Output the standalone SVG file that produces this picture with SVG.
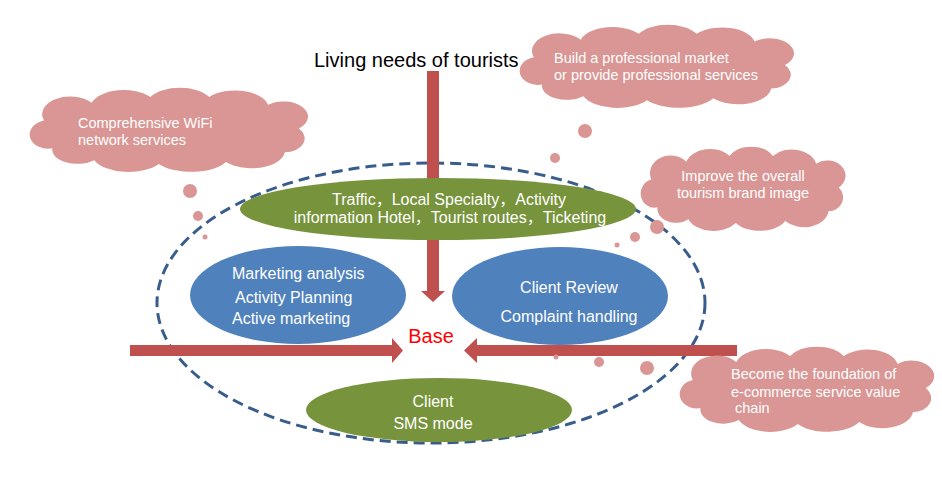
<svg xmlns="http://www.w3.org/2000/svg" width="942" height="485" viewBox="0 0 942 485">
<style>
  .t { font-family: "Liberation Sans", Arial, "Noto Sans CJK SC", sans-serif; }
  .wt { fill: #ffffff; font-size: 16px; }
  .ct { fill: #ffffff; font-size: 14.5px; }
  .cloud { fill: #D99694; }
  .green { fill: #77933C; }
  .blue { fill: #4F81BD; }
  .arrow { fill: #C0504D; }
  .dash { fill: none; stroke: #385D8A; stroke-width: 3; stroke-dasharray: 11 6; }
</style>
<defs>
  <path id="cloudShape" d="M 16 60 A 12 13 0 0 1 10 32 A 20 18 0 0 1 44 14 A 24 18 0 0 1 86 8 A 24 18 0 0 1 128 8 A 24 18 0 0 1 170 16 A 16 14 0 0 1 192 40 A 14 14 0 0 1 182 64 A 24 18 0 0 1 140 74 A 28 18 0 0 1 92 76 A 26 18 0 0 1 46 72 A 18 14 0 0 1 16 60 Z"/>
</defs>
<rect width="942" height="485" fill="#ffffff"/>

<g id="boundary">
  <ellipse class="dash" cx="431" cy="303" rx="274" ry="140"/>
</g>

<g id="connectors">
  <polygon class="arrow" points="427,71 439,71 439,291 445,291 433,302 421,291 427,291"/>
  <polygon class="arrow" points="130,345 392,345 392,338 403,350.5 392,363 392,356 130,356"/>
  <polygon class="arrow" points="737,345 477,345 477,338 464,350.5 477,363 477,356 737,356"/>
</g>

<g id="top-label">
  <text class="t" x="314" y="67" font-size="20" fill="#000000">Living needs of tourists</text>
</g>

<g id="info-ellipse">
  <ellipse class="green" cx="438" cy="209" rx="198" ry="31"/>
  <text class="t wt" x="449" y="205" text-anchor="middle">Traffic，Local Specialty，Activity</text>
  <text class="t wt" x="450" y="223" text-anchor="middle">information Hotel，Tourist routes，Ticketing</text>
</g>

<g id="marketing-ellipse">
  <ellipse class="blue" cx="298" cy="295" rx="108" ry="49"/>
  <text class="t wt" x="232" y="279">Marketing analysis</text>
  <text class="t wt" x="235" y="303">Activity Planning</text>
  <text class="t wt" x="232" y="324">Active marketing</text>
</g>

<g id="client-review-ellipse">
  <ellipse class="blue" cx="560" cy="296" rx="108" ry="49"/>
  <text class="t wt" x="569" y="293" text-anchor="middle">Client Review</text>
  <text class="t wt" x="569" y="322" text-anchor="middle">Complaint handling</text>
</g>

<g id="sms-ellipse">
  <ellipse class="green" cx="439" cy="410" rx="133" ry="32"/>
  <text class="t wt" x="433" y="407" text-anchor="middle">Client</text>
  <text class="t wt" x="433" y="429" text-anchor="middle">SMS mode</text>
</g>

<g id="base">
  <text class="t" x="431" y="343" font-size="20" fill="#FF0000" text-anchor="middle">Base</text>
</g>

<g id="cloud-wifi">
  <use href="#cloudShape" class="cloud" transform="translate(30,89) scale(1.4,0.988)"/>
  <circle class="cloud" cx="190" cy="191" r="7"/>
  <circle class="cloud" cx="198" cy="216" r="5"/>
  <circle class="cloud" cx="205" cy="237" r="2.5"/>
  <text class="t ct" x="78" y="128">Comprehensive WiFi</text>
  <text class="t ct" x="78" y="145">network services</text>
</g>

<g id="cloud-market">
  <use href="#cloudShape" class="cloud" transform="translate(520,26) scale(1.38,0.976)"/>
  <circle class="cloud" cx="585" cy="131" r="7"/>
  <circle class="cloud" cx="555" cy="158" r="5"/>
  <text class="t ct" x="554" y="63">Build a professional market</text>
  <text class="t ct" x="554" y="80">or provide professional services</text>
</g>

<g id="cloud-brand">
  <use href="#cloudShape" class="cloud" transform="translate(641,148) scale(1.03,0.988)"/>
  <circle class="cloud" cx="657" cy="227" r="7"/>
  <circle class="cloud" cx="635" cy="237" r="5"/>
  <circle class="cloud" cx="617" cy="245" r="2.5"/>
  <text class="t ct" x="743" y="181" text-anchor="middle">Improve the overall</text>
  <text class="t ct" x="743" y="198" text-anchor="middle">tourism brand image</text>
</g>

<g id="cloud-ecommerce">
  <use href="#cloudShape" class="cloud" transform="translate(680,348) scale(1.28,1.0)"/>
  <circle class="cloud" cx="647" cy="368" r="7"/>
  <circle class="cloud" cx="599" cy="362" r="5"/>
  <circle class="cloud" cx="556" cy="357" r="2.5"/>
  <text class="t ct" x="731" y="379">Become the foundation of</text>
  <text class="t ct" x="731" y="397">e-commerce service value</text>
  <text class="t ct" x="735" y="413"> chain</text>
</g>
</svg>
